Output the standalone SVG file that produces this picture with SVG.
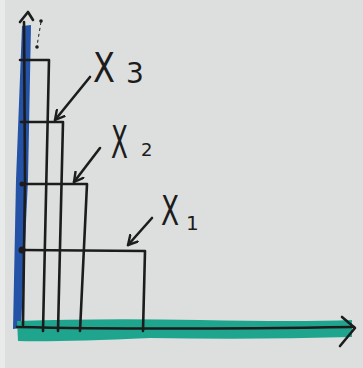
<svg xmlns="http://www.w3.org/2000/svg" width="363" height="368" viewBox="0 0 363 368">
  <defs>
    <style>
      .ink{fill:none;stroke:#1c1c1c;stroke-width:2.6;stroke-linecap:round;stroke-linejoin:round}
      .lbl{font-family:"DejaVu Sans","Liberation Sans",sans-serif;fill:#1c1c1c}
    </style>
    <marker id="ah" viewBox="0 0 12 12" refX="10" refY="6" markerWidth="12" markerHeight="12" markerUnits="userSpaceOnUse" orient="auto">
      <path d="M1,1 L10,6 L1,11" fill="none" stroke="#1c1c1c" stroke-width="2.4" stroke-linecap="round" stroke-linejoin="round"/>
    </marker>
  </defs>
  <rect x="0" y="0" width="363" height="368" fill="#dcdfde"/>
  <rect x="0" y="0" width="5" height="368" fill="#e9ebea"/>

  <g id="axes">
    <path d="M22,26 L31,25 L28,180 L21,328 L13,329 L16,180 Z" fill="#2452a6"/>
    <path d="M17,321 Q100,318 200,320 T352,320 L352,337 Q250,340 150,338 Q60,342 18,341 Z" fill="#1fa58e"/>
    <path class="ink" d="M24,22 L25,180 L23,325"/>
    <path class="ink" d="M20,22 L28,12 L33,20"/>
    <path class="ink" d="M17,327 Q150,330 354,327"/>
    <path class="ink" d="M342,317 L355,328 L340,346"/>
    <g fill="#1c1c1c">
      <circle cx="41" cy="21" r="1.8"/>
      <circle cx="37" cy="47" r="1.8"/>
      <path d="M41,22 L37,46" stroke="#1c1c1c" stroke-width="1" stroke-dasharray="3 3"/>
    </g>
  </g>

  <g id="x3-bar">
    <path class="ink" d="M20,60 L49,60 L43,331"/>
  </g>
  <g id="x2-bar">
    <path class="ink" d="M21,122 L63,122 L58,331"/>
  </g>
  <g id="x-bar-3">
    <path class="ink" d="M21,184 L87,184 L80,331"/>
    <circle cx="22" cy="184" r="2.5" fill="#1c1c1c"/>
  </g>
  <g id="x1-bar">
    <path class="ink" d="M21,250 L145,251 L143,331"/>
    <circle cx="22" cy="250" r="3.5" fill="#1c1c1c"/>
  </g>

  <g id="label-x3">
    <text class="lbl" x="93" y="82" font-size="40" transform="translate(93,82) scale(0.8,1) translate(-93,-82)">X</text>
    <text class="lbl" x="126" y="83" font-size="28">3</text>
  </g>
  <g id="label-x2">
    <text class="lbl" x="111" y="158" font-size="44" transform="translate(111,158) scale(0.56,1) translate(-111,-158)">X</text>
    <text class="lbl" x="141" y="156" font-size="18">2</text>
  </g>
  <g id="label-x1">
    <text class="lbl" x="161" y="225" font-size="40" transform="translate(161,225) scale(0.66,1) translate(-161,-225)">X</text>
    <text class="lbl" x="186" y="230" font-size="20">1</text>
  </g>

  <g id="connectors">
    <path class="ink" d="M90,77 L55,120" marker-end="url(#ah)"/>
    <path class="ink" d="M100,148 L74,182" marker-end="url(#ah)"/>
    <path class="ink" d="M152,218 L128,245" marker-end="url(#ah)"/>
  </g>
</svg>
